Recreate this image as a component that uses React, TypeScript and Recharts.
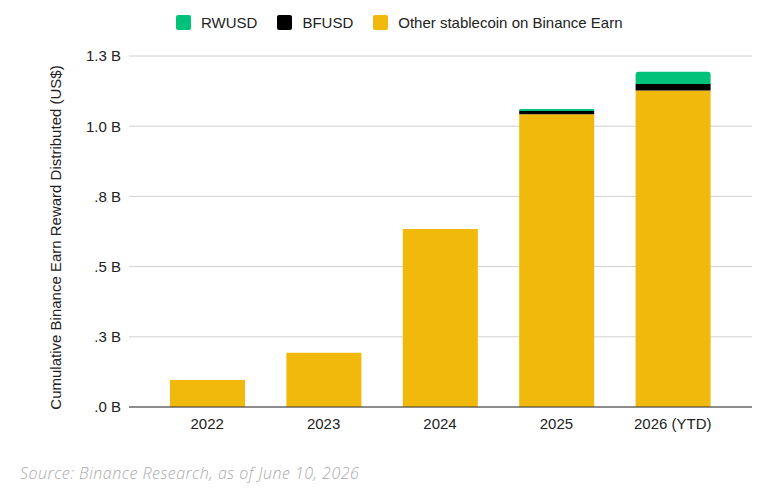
import React from "react";
import { BarChart, Bar, XAxis, YAxis, CartesianGrid } from "recharts";

// Cumulative Binance Earn reward distributed, in US$ billions
const years = ["2022", "2023", "2024", "2025", "2026 (YTD)"];
const otherStablecoin = [0.096, 0.193, 0.634, 1.043, 1.127];
const bfusd = [0, 0, 0, 0.011, 0.023];
const rwusd = [0, 0, 0, 0.007, 0.044];

const yTicks = [0, 0.25, 0.5, 0.75, 1.0, 1.25];
const yTickLabels = [".0 B", ".3 B", ".5 B", ".8 B", "1.0 B", "1.3 B"];

const COLORS = {
  rwusd: "#02C27A",
  bfusd: "#000000",
  other: "#F0B90B",
};

const legendItems = [
  { label: "RWUSD", color: COLORS.rwusd },
  { label: "BFUSD", color: COLORS.bfusd },
  { label: "Other stablecoin on Binance Earn", color: COLORS.other },
];

const data = years.map((year, i) => ({
  year,
  other: otherStablecoin[i],
  bfusd: bfusd[i],
  rwusd: rwusd[i],
}));

const FONT = "'Liberation Sans', Arial, sans-serif";
const Y_TITLE = "Cumulative Binance Earn Reward Distributed (US$)";

function formatTick(v: number): string {
  const idx = yTicks.indexOf(v);
  return idx >= 0 ? yTickLabels[idx] : String(v);
}

// rotated y-axis title, nudged a little below the plot's middle like the original
function YTitle(props: any) {
  const vb = props.viewBox || {};
  const x = (vb.x || 0) + 55;
  const y = (vb.y || 0) + (vb.height || 0) / 2 + 6;
  return (
    <text
      x={x}
      y={y}
      transform={`rotate(-90, ${x}, ${y})`}
      textAnchor="middle"
      dominantBaseline="central"
      fill="#222"
      fontSize={15}
      fontFamily={FONT}
    >
      {Y_TITLE}
    </text>
  );
}

export default function App() {
  return (
    <div
      style={{
        position: "fixed",
        left: 0,
        top: 0,
        width: 780,
        height: 502,
        background: "#fff",
        fontFamily: FONT,
      }}
    >
      {/* Legend */}
      <div
        style={{
          position: "absolute",
          top: 14,
          left: 176,
          display: "flex",
          alignItems: "center",
          fontSize: 15,
          color: "#222",
          lineHeight: "17px",
        }}
      >
        {legendItems.map((item) => (
          <span
            key={item.label}
            style={{ display: "flex", alignItems: "center", marginRight: 20 }}
          >
            <span
              style={{
                display: "inline-block",
                width: 15,
                height: 15,
                borderRadius: 2,
                background: item.color,
                marginRight: 10,
              }}
            />
            {item.label}
          </span>
        ))}
      </div>

      <div style={{ position: "absolute", left: 0, top: 0 }}>
        <BarChart
          width={780}
          height={502}
          data={data}
          margin={{ top: 56, right: 28, bottom: 65, left: 0 }}
          barSize={75}
        >
          <CartesianGrid vertical={false} stroke="#d0d0d0" />
          <XAxis
            dataKey="year"
            axisLine={{ stroke: "#333" }}
            tickLine={false}
            tickMargin={5}
            padding={{ left: 20, right: 21 }}
            tick={{ fill: "#222", fontSize: 15, fontFamily: FONT }}
            height={30}
          />
          <YAxis
            width={129}
            domain={[0, 1.25]}
            ticks={yTicks}
            tickFormatter={formatTick}
            axisLine={false}
            tickLine={false}
            tick={{ fill: "#222", fontSize: 15, fontFamily: FONT }}
            label={<YTitle />}
          />
          <Bar
            dataKey="other"
            stackId="a"
            fill={COLORS.other}
            isAnimationActive={false}
          />
          <Bar
            dataKey="bfusd"
            stackId="a"
            fill={COLORS.bfusd}
            isAnimationActive={false}
          />
          <Bar
            dataKey="rwusd"
            stackId="a"
            fill={COLORS.rwusd}
            radius={[3, 3, 0, 0]}
            isAnimationActive={false}
          />
        </BarChart>
      </div>

      {/* Source note */}
      <div
        style={{
          position: "absolute",
          left: 20,
          top: 462,
          fontFamily: "'Open Sans', sans-serif",
          fontStyle: "italic",
          fontWeight: 300,
          fontSize: 16,
          letterSpacing: 0.5,
          color: "#aaaaaa",
        }}
      >
        Source: Binance Research, as of June 10, 2026
      </div>
    </div>
  );
}
